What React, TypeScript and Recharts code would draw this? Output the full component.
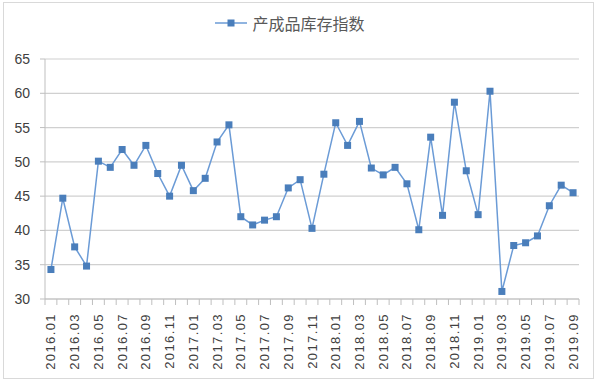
import React from 'react';
import { LineChart, Line, XAxis, YAxis, CartesianGrid, Legend } from 'recharts';

const months: string[] = [
  '2016.01','2016.02','2016.03','2016.04','2016.05','2016.06','2016.07','2016.08','2016.09','2016.10','2016.11','2016.12',
  '2017.01','2017.02','2017.03','2017.04','2017.05','2017.06','2017.07','2017.08','2017.09','2017.10','2017.11','2017.12',
  '2018.01','2018.02','2018.03','2018.04','2018.05','2018.06','2018.07','2018.08','2018.09','2018.10','2018.11','2018.12',
  '2019.01','2019.02','2019.03','2019.04','2019.05','2019.06','2019.07','2019.08','2019.09',
];

const inventoryIndex: number[] = [
  34.3, 44.7, 37.6, 34.8, 50.1, 49.2, 51.8, 49.5, 52.4, 48.3, 45.0, 49.5,
  45.8, 47.6, 52.9, 55.4, 42.0, 40.8, 41.5, 42.0, 46.2, 47.4, 40.3, 48.2,
  55.7, 52.4, 55.9, 49.1, 48.1, 49.2, 46.8, 40.1, 53.6, 42.2, 58.7, 48.7,
  42.3, 60.3, 31.1, 37.8, 38.2, 39.2, 43.6, 46.6, 45.5,
];

const yTicks: number[] = [30, 35, 40, 45, 50, 55, 60, 65];

const seriesName = '产成品库存指数';

const data = months.map((m, i) => ({ month: m, value: inventoryIndex[i] }));

const LINE_COLOR = '#6b9bd6';
const MARKER_COLOR = '#4a7ebb';
const AXIS_COLOR = '#bfbfbf';
const TEXT_COLOR = '#404040';

const XTick = (props: any) => {
  const { x, y, payload } = props;
  const half = payload && typeof payload.offset === 'number' && payload.offset > 0 ? payload.offset : 534 / 45 / 2;
  const idx = payload.index;
  const isLast = idx === months.length - 1;
  const ty = y + 14;
  return (
    <g>
      <line x1={x - half} y1={y} x2={x - half} y2={y + 6} stroke={AXIS_COLOR} strokeWidth={1} />
      {isLast && <line x1={x + half} y1={y} x2={x + half} y2={y + 6} stroke={AXIS_COLOR} strokeWidth={1} />}
      {idx % 2 === 0 && (
        <text
          x={x}
          y={ty}
          transform={`rotate(-90 ${x} ${ty})`}
          textAnchor="end"
          dominantBaseline="central"
          fill={TEXT_COLOR}
          fontSize={13}
          letterSpacing={1.4}
          fontFamily="'Liberation Sans', Arial, sans-serif"
        >
          {payload.value}
        </text>
      )}
    </g>
  );
};

const SquareDot = (props: any) => {
  const { cx, cy, index } = props;
  if (cx == null || cy == null) return <g key={`d${index}`} />;
  return <rect key={`d${index}`} x={cx - 3.5} y={cy - 3.5} width={7} height={7} fill={MARKER_COLOR} stroke="none" />;
};

const LegendContent = () => (
  <div style={{ display: 'flex', justifyContent: 'center', alignItems: 'center', height: 22 }}>
    <svg width={34} height={10} style={{ marginRight: 4 }}>
      <line x1={1} y1={5} x2={33} y2={5} stroke={LINE_COLOR} strokeWidth={1.5} />
      <rect x={13.5} y={1.5} width={7} height={7} fill={MARKER_COLOR} />
    </svg>
    <span style={{ fontFamily: "'Noto Sans CJK SC', sans-serif", fontSize: 16, color: '#595959', lineHeight: '22px' }}>
      {seriesName}
    </span>
  </div>
);

export default function App() {
  return (
    <div style={{ position: 'absolute', left: 0, top: 0, width: 600, height: 383, background: '#fff' }}>
      <div
        style={{
          position: 'absolute',
          left: 3,
          top: 2,
          width: 591,
          height: 377,
          border: '1px solid #d9d9d9',
          boxSizing: 'border-box',
        }}
      />
      <div style={{ position: 'absolute', left: 0, top: 0 }}>
        <LineChart width={600} height={383} data={data} margin={{ top: 23, right: 21, bottom: 4, left: 0 }}>
          <CartesianGrid vertical={false} stroke="#d0d0d0" strokeWidth={1.2} />
          <XAxis
            dataKey="month"
            scale="band"
            interval={0}
            tickLine={false}
            tickSize={0}
            tickMargin={0}
            height={80}
            axisLine={{ stroke: AXIS_COLOR }}
            tick={<XTick />}
          />
          <YAxis
            domain={[30, 65]}
            ticks={yTicks}
            interval={0}
            width={45}
            tickSize={5}
            tickMargin={10}
            axisLine={{ stroke: AXIS_COLOR }}
            tickLine={{ stroke: AXIS_COLOR }}
            tick={{ fill: TEXT_COLOR, fontSize: 14, fontFamily: "'Liberation Sans', Arial, sans-serif" }}
          />
          <Legend verticalAlign="top" height={36} wrapperStyle={{ top: 12 }} content={<LegendContent />} />
          <Line
            type="linear"
            dataKey="value"
            name={seriesName}
            stroke={LINE_COLOR}
            strokeWidth={1.5}
            dot={<SquareDot />}
            activeDot={false}
            isAnimationActive={false}
          />
        </LineChart>
      </div>
    </div>
  );
}
